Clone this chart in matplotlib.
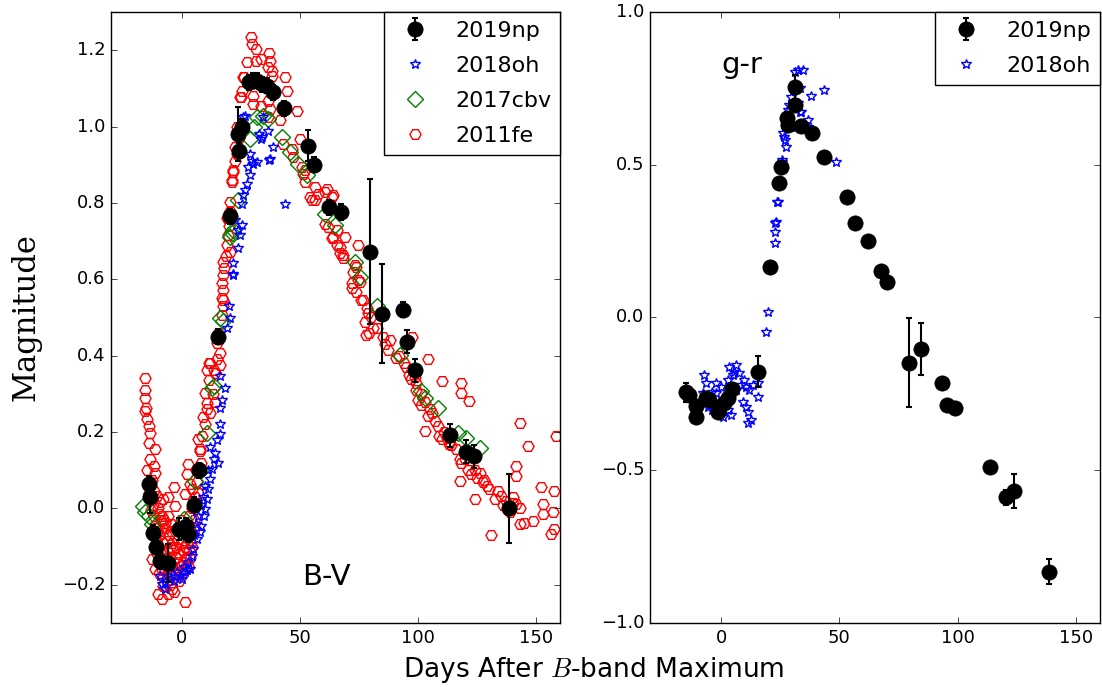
"""
Curvas de color B-V y g-r de SN 2019np comparadas con 2018oh, 2017cbv y 2011fe.
"""

import matplotlib
matplotlib.use('Agg')
import matplotlib.pyplot as plt

# --- Datos B-V ---
# 2019np (puntos negros con barras de error)
np19_bv_x = [-14.1, -13.4, -12.4, -11.0, -9.2, -5.7, -1.4, 1.8, 2.8, 5.2, 7.3,
             15.5, 20.4, 24.3, 23.9, 25.6, 28.6, 30.2, 31.7, 33.8, 35.9, 38.7,
             43.4, 53.5, 56.0, 62.4, 67.2, 79.6, 84.5, 93.4, 95.3, 98.6,
             113.4, 120.1, 123.6, 138.4]
np19_bv_y = [0.065, 0.029, -0.064, -0.10, -0.138, -0.143, -0.054, -0.045, -0.067,
             0.010, 0.100, 0.450, 0.765, 0.937, 0.981, 1.000, 1.116, 1.120, 1.120,
             1.111, 1.107, 1.090, 1.048, 0.950, 0.900, 0.789, 0.776, 0.672, 0.510,
             0.520, 0.437, 0.362, 0.192, 0.148, 0.136, 0.000]
np19_bv_err = [0.02, 0.04, 0.02, 0.02, 0.02, 0.05, 0.03, 0.02, 0.02, 0.02, 0.02,
               0.02, 0.02, 0.02, 0.07, 0.02, 0.02, 0.02, 0.02, 0.02, 0.02, 0.02,
               0.02, 0.04, 0.02, 0.02, 0.02, 0.19, 0.13, 0.02, 0.03, 0.03,
               0.03, 0.03, 0.03, 0.09]

# 2018oh (estrellas azules)
oh18_bv_x = [-9.2, -8.5, -7.1, -7.1, -4.9, -2.8, -2.1, -0.7, 0.7, 1.4, 2.8, 3.5,
             4.2, 4.9, 5.0, 6.0, 6.3, 7.0, 7.7, 8.0, 8.2, 9.0, 9.2, 9.8, 10.0,
             10.6, 11.0, 11.2, 12.0, 12.0, 12.7, 13.4, 14.1, 14.8, 15.5, 16.2,
             16.2, 16.2, 16.9, 18.3, 16.2, 19.0, 20.4, 20.1, 21.8, 21.8, 21.8,
             22.5, 23.9, 23.9, 24.6, 25.4, 25.3, 26.0, 26.7, 27.5, 28.1, 28.9,
             28.9, 29.6, 30.3, 31.7, 32.7, 33.5, 33.8, 34.5, 36.6, 37.0, 37.3,
             38.4, 26.0, 26.7, 43.7, -5.5, -3.5, 0.0, 2.0]
oh18_bv_y = [-0.176, -0.198, -0.193, -0.210, -0.184, -0.180, -0.167, -0.176,
             -0.154, -0.167, -0.141, -0.158, -0.124, -0.106, -0.07, -0.04, -0.08,
             -0.02, -0.063, 0.01, -0.045, 0.03, -0.019, -0.002, 0.06, 0.024, 0.10,
             0.050, 0.076, 0.16, 0.103, 0.129, 0.146, 0.18, 0.12, 0.194, 0.263,
             0.346, 0.285, 0.316, 0.22, 0.472, 0.498, 0.529, 0.611, 0.642, 0.615,
             0.755, 0.681, 0.729, 0.716, 0.742, 0.798, 0.820, 0.833, 0.850, 0.894,
             0.872, 0.929, 0.911, 0.903, 0.907, 0.980, 0.968, 0.972, 1.024, 0.988,
             0.913, 0.916, 0.946, 1.024, 1.029, 0.797, -0.165, -0.19, -0.185,
             -0.16]

# 2017cbv (rombos verdes)
cbv17_bv_x = [-16.6, -15.5, -14.0, -12.5, -1.0, 0.7, 3.0, 5.6, 8.0, 10.6, 12.7,
              13.5, 16.2, 17.6, 20.4, 21.1, 21.8, 23.9, 28.9, 30.5, 31.7, 34.5,
              36.6, 42.2, 45.8, 49.3, 52.8, 60.5, 64.8, 73.2, 75.3, 82.4, 92.2,
              101.4, 103.0, 108.4, 116.9, 120.4, 126.0]
cbv17_bv_y = [0.007, -0.010, -0.020, -0.040, -0.060, -0.028, -0.070, 0.072, 0.100,
              0.198, 0.316, 0.320, 0.498, 0.490, 0.711, 0.720, 0.730, 0.807, 0.968,
              1.000, 1.024, 1.029, 1.020, 0.972, 0.933, 0.903, 0.872, 0.772, 0.742,
              0.646, 0.607, 0.529, 0.403, 0.307, 0.290, 0.263, 0.198, 0.185, 0.159]

# 2011fe (hexágonos rojos)
fe11_bv_x = [
    -15.5, -15.5, -15.5, -15.2, -15.5, -14.8, -14.1, -13.4, -14.1, -11.3, -13.4,
    -12.0, -11.3, -12.7, -13.4, -12.0, -10.6, -9.2, -7.8, -5.7, -3.5, -2.8, -8.5,
    -7.1, -11.3, -10.0, -12.0, -13.0, -12.7, -11.3, -9.9, -8.5, -7.8, -3.5, 1.4,
    -11.0, -10.0, -9.0, -8.0, -7.0, -6.0, -9.5, -8.0, -6.5, -5.0, -4.0, -3.0,
    -2.0, -1.0, 0.0, -7.0, -5.5, -4.0, -2.5, -1.0, 0.5, 1.5, 2.5, 3.5, -6.0,
    -4.5, -3.0, -1.5, 0.0, 1.5, 3.0, 4.5, -9.0, -10.5, -11.5, -9.5, -8.0, -6.5,
    -5.0, -4.0, -6.0, -0.5, 1.0, 2.5, 4.0, 5.5, 3.0, 4.5, 6.0, 5.5, 7.0, 2.1,
    2.8, 1.4, 4.2, 3.5,
    -10.8, -9.8, -8.8, -7.5, -6.2, -5.2, -4.6, -3.6, -2.4, -1.2, 0.3, 1.8, -8.2,
    -6.8, -5.8, -2.2, -0.2, 2.2, 3.8, 5.0, -12.2, -11.8, -10.2, -13.8, -14.6,
    6.5, 7.0, 8.0, 7.5, 7.0, 7.7, 8.5, 9.8, 9.0, 10.6, 10.6, 9.8, 11.3, 10.6,
    12.0, 11.3, 13.4, 14.1, 14.8, 16.2, 15.0, 16.2, 13.0, 14.0, 12.0, 15.5,
    16.9, 17.2, 17.6, 17.0, 17.6, 17.0, 17.6, 18.0, 17.6, 18.5, 20.4, 19.7,
    19.0, 20.0, 19.0,
    20.4, 21.1, 21.8, 22.5, 23.2, 22.5, 21.1, 21.8, 20.5, 24.0, 24.6, 25.1,
    25.3, 24.6, 26.0, 26.3, 23.5,
    29.1, 29.6, 31.4, 27.5, 31.3, 33.5, 37.0, 37.3, 36.6, 38.0, 38.0, 43.6,
    44.4, 30.0, 33.5, 30.3, 36.6, 37.3, 36.6, 41.5, 48.6, 50.0, 46.5, 42.9,
    47.2, 50.7, 52.1, 51.4, 52.1, 54.9, 54.2, 56.3, 61.3, 63.4,
    56.3, 57.7, 60.5, 64.0, 61.9, 64.0, 65.5, 69.0, 66.9, 68.3, 74.6, 73.2,
    72.5, 71.8, 75.3, 73.9, 76.0, 78.2, 77.4, 81.0, 60.5, 63.4, 65.5, 66.9,
    68.3, 73.9, 71.8, 74.6, 76.7, 78.9, 82.4, 80.0, 79.0, 78.0,
    87.3, 90.8, 97.2, 104.2, 109.9, 118.3, 118.3, 121.5, 99.3, 98.5, 100.0,
    101.4, 104.2, 105.0, 102.8, 108.4, 109.0, 109.9, 113.0, 116.2, 117.5,
    118.3, 117.9, 122.5, 126.0, 127.4, 123.9, 129.0, 133.8, 135.2, 137.0,
    140.0, 141.5, 141.5, 141.5, 142.9, 146.4, 142.9, 145.0, 148.5, 152.1,
    152.8, 152.8, 157.0, 157.7, 156.3, 131.0, 157.7, 158.4, 132.4, 139.0, 143.0,
    85.0, 86.0, 88.0, 92.0, 94.0, 95.0, 96.0, 97.0, 99.0, 101.0, 103.0, 106.0,
    107.0, 111.0, 112.0, 114.0, 120.0, 121.0, 124.0, 125.0, 128.0, 130.0,
    136.0, 138.0, 140.0]
fe11_bv_y = [
    0.342, 0.311, 0.290, 0.263, 0.255, 0.233, 0.216, 0.198, 0.172, 0.155, 0.129,
    0.111, 0.094, 0.075, 0.060, 0.045, 0.033, 0.016, 0.024, 0.029, 0.055, 0.007,
    -0.019, -0.037, -0.045, -0.060, -0.020, -0.005, -0.132, -0.158, -0.224,
    -0.237, -0.202, -0.219, -0.245,
    -0.08, -0.10, -0.12, -0.14, -0.16, -0.17, -0.07, -0.09, -0.11, -0.13, -0.15,
    -0.17, -0.18, -0.19, -0.17, -0.05, -0.07, -0.09, -0.10, -0.12, -0.14, -0.16,
    -0.15, -0.13, -0.02, -0.04, -0.06, -0.08, -0.09, -0.10, -0.11, -0.10, -0.03,
    -0.12, -0.10, -0.17, -0.18, -0.19, -0.20, -0.21, -0.225, -0.03, -0.05,
    -0.07, -0.06, -0.05, -0.02, 0.00, 0.01, 0.03, 0.04, 0.09, 0.116, 0.037,
    0.050, 0.065,
    -0.05, -0.015, -0.06, -0.03, -0.085, -0.10, -0.06, -0.11, -0.13, -0.05,
    -0.11, -0.13, -0.16, -0.13, -0.15, -0.14, -0.15, -0.09, -0.09, -0.03, 0.01,
    -0.07, 0.0, 0.04, 0.1,
    0.07, 0.10, 0.12, 0.15, 0.181, 0.155, 0.19, 0.22, 0.24, 0.26, 0.277, 0.303,
    0.337, 0.363, 0.381, 0.381, 0.363, 0.355, 0.433, 0.407, 0.39, 0.376, 0.30,
    0.28, 0.25, 0.46, 0.507, 0.53, 0.546, 0.55, 0.572, 0.59, 0.611, 0.63,
    0.646, 0.66, 0.672, 0.716, 0.69, 0.74, 0.76,
    0.803, 0.859, 0.881, 0.911, 0.929, 0.946, 0.855, 0.885, 0.78, 0.97, 1.00,
    1.077, 1.094, 1.077, 1.129, 1.129, 1.00,
    1.235, 1.216, 1.203, 1.168, 1.172, 1.177, 1.192, 1.172, 1.155, 1.146, 1.133,
    1.129, 1.094, 1.059, 1.055, 1.081, 1.068, 1.046, 1.024, 1.016, 1.042, 0.968,
    0.942, 0.955, 0.920, 0.894, 0.885, 0.877, 0.855, 0.807, 0.815, 0.842,
    0.837, 0.815,
    0.807, 0.824, 0.829, 0.820, 0.737, 0.711, 0.690, 0.711, 0.668, 0.655, 0.690,
    0.637, 0.620, 0.590, 0.594, 0.568, 0.546, 0.524, 0.489, 0.472, 0.746, 0.707,
    0.729, 0.685, 0.663, 0.633, 0.577, 0.598, 0.546, 0.511, 0.472, 0.500, 0.460,
    0.455,
    0.416, 0.394, 0.450, 0.390, 0.333, 0.329, 0.301, 0.281, 0.329, 0.345, 0.285,
    0.272, 0.242, 0.260, 0.203, 0.216, 0.190, 0.181, 0.170, 0.155, 0.130, 0.120,
    0.072, 0.090, 0.094, 0.068, 0.024, 0.060, 0.046, 0.033, 0.020, 0.015, 0.011,
    0.111, 0.085, 0.224, 0.163, -0.041, -0.037, -0.032, 0.055, 0.011, -0.015,
    -0.010, 0.046, -0.067, -0.070, -0.054, 0.190, 0.024, -0.010, 0.000,
    0.450, 0.430, 0.440, 0.400, 0.380, 0.370, 0.350, 0.340, 0.310, 0.300, 0.280,
    0.250, 0.230, 0.200, 0.185, 0.165, 0.130, 0.100, 0.100, 0.080, 0.075, 0.050,
    0.010, -0.005, 0.030]

# --- Datos g-r ---
np19_gr_x = [-14.6, -13.5, -10.6, -10.6, -6.4, -5.0, -1.4, 1.4, 2.8, 4.5, 15.5,
             20.5, 24.4, 25.4, 28.0, 28.5, 31.1, 31.1, 33.9, 38.4, 43.5, 53.1,
             56.5, 62.1, 67.4, 70.3, 79.4, 84.4, 93.2, 95.6, 98.6, 113.7, 120.5,
             123.6, 138.7]
np19_gr_y = [-0.245, -0.255, -0.290, -0.327, -0.265, -0.270, -0.308, -0.280,
             -0.262, -0.235, -0.177, 0.166, 0.439, 0.494, 0.652, 0.630, 0.753,
             0.696, 0.627, 0.603, 0.526, 0.395, 0.310, 0.251, 0.153, 0.117,
             -0.148, -0.103, -0.216, -0.287, -0.297, -0.490, -0.589, -0.568,
             -0.832]
np19_gr_err = [0.03, 0.02, 0.02, 0.02, 0.02, 0.02, 0.02, 0.02, 0.02, 0.02, 0.05,
               0.01, 0.01, 0.01, 0.02, 0.02, 0.04, 0.02, 0.02, 0.01, 0.01, 0.02,
               0.01, 0.01, 0.01, 0.01, 0.146, 0.085, 0.01, 0.01, 0.01, 0.015,
               0.025, 0.057, 0.04]

oh18_gr_x = [-7.1, -6.4, -7.8, -7.1, -5.0, -3.6, -2.1, -2.8, -1.4, -0.7, -3.6,
             -5.7, 0.7, 2.1, 3.5, 6.4, 7.8, 4.9, 2.8, 8.5, 9.9, 10.6, 12.0, 13.4,
             15.5, 16.2, 15.5, 9.2, 10.6, 11.3, 12.7, 11.3, 2.8, 4.2, 0.7, 5.6,
             3.5, 6.4, 0.0, -2.1,
             18.8, 19.7, 22.6, 23.0, 23.3, 23.0, 24.0, 23.5, 25.7, 25.8, 26.1,
             26.4, 27.2, 27.5, 28.2, 28.9, 29.7, 29.7, 29.4, 30.5, 31.1, 32.5,
             32.5, 33.2, 33.5, 33.9, 34.6, 36.0, 36.7, 36.7, 38.1, 43.3, 48.7]
oh18_gr_y = [-0.188, -0.215, -0.248, -0.270, -0.265, -0.243, -0.248, -0.281,
             -0.292, -0.314, -0.303, -0.292, -0.286, -0.259, -0.161, -0.155,
             -0.183, -0.188, -0.205, -0.221, -0.205, -0.226, -0.237, -0.221,
             -0.215, -0.183, -0.259, -0.276, -0.292, -0.308, -0.336, -0.346,
             -0.303, -0.319, -0.325, -0.177, -0.232, -0.237, -0.226, -0.215,
             -0.046, 0.019, 0.245, 0.281, 0.314, 0.310, 0.379, 0.379, 0.515,
             0.510, 0.603, 0.592, 0.581, 0.559, 0.679, 0.696, 0.723, 0.630, 0.625,
             0.700, 0.805, 0.810, 0.701, 0.750, 0.674, 0.674, 0.810, 0.622, 0.646,
             0.625, 0.725, 0.745, 0.508]

# --- Figura ---
plt.style.use('classic')
plt.rcParams['font.family'] = 'DejaVu Sans'
plt.rcParams['figure.facecolor'] = 'white'
plt.rcParams['savefig.facecolor'] = 'white'

fig = plt.figure(figsize=(11.02, 6.87), dpi=100)
ax1 = fig.add_axes([0.1007, 0.0932, 0.4074, 0.8893])
ax2 = fig.add_axes([0.5898, 0.0932, 0.4083, 0.8893])

err_kw = dict(fmt='o', color='k', ms=11, mec='k', elinewidth=1.5,
              capsize=2.5, capthick=1.5, zorder=5)
leg_kw = dict(loc='upper right', numpoints=1, fontsize=16, borderaxespad=0,
              labelspacing=0.68)

# Panel izquierdo: B-V
h_fe, = ax1.plot(fe11_bv_x, fe11_bv_y, 'H', ms=8, mfc='none', mec='r',
                 mew=1, ls='none', label='2011fe', zorder=1)
h_cbv, = ax1.plot(cbv17_bv_x, cbv17_bv_y, 'D', ms=8, mfc='none', mec='g',
                  mew=1, ls='none', label='2017cbv', zorder=2)
h_oh, = ax1.plot(oh18_bv_x, oh18_bv_y, '*', ms=7, mfc='none', mec='b',
                 mew=1, ls='none', label='2018oh', zorder=3)
h_np = ax1.errorbar(np19_bv_x, np19_bv_y, yerr=np19_bv_err, label='2019np',
                    **err_kw)

ax1.set_xlim(-30, 160)
ax1.set_ylim(-0.3, 1.3)
ax1.set_xticks([0, 50, 100, 150])
ax1.set_yticks([-0.2, 0.0, 0.2, 0.4, 0.6, 0.8, 1.0, 1.2])
ax1.text(51, -0.2, 'B-V', fontsize=21)
ax1.set_ylabel('Magnitude', fontsize=22, family='DejaVu Serif')
ax1.yaxis.set_label_coords(-0.155, 0.5)
ax1.legend([h_np, h_oh, h_cbv, h_fe], ['2019np', '2018oh', '2017cbv', '2011fe'],
           **leg_kw)

# Panel derecho: g-r
h_oh2, = ax2.plot(oh18_gr_x, oh18_gr_y, '*', ms=7, mfc='none', mec='b',
                  mew=1, ls='none', label='2018oh', zorder=3)
h_np2 = ax2.errorbar(np19_gr_x, np19_gr_y, yerr=np19_gr_err, label='2019np',
                     **err_kw)

ax2.set_xlim(-30, 160)
ax2.set_ylim(-1.0, 1.0)
ax2.set_xticks([0, 50, 100, 150])
ax2.set_yticks([-1.0, -0.5, 0.0, 0.5, 1.0])
ax2.text(0, 0.8, 'g-r', fontsize=21)
ax2.legend([h_np2, h_oh2], ['2019np', '2018oh'], **leg_kw)

for ax in (ax1, ax2):
    ax.tick_params(labelsize=13)

fig.text(594 / 1102, 1 - 677 / 687, 'Days After $B$-band Maximum',
         fontsize=19, ha='center', va='baseline')

fig.savefig('out.png', dpi=100)
plt.close(fig)
